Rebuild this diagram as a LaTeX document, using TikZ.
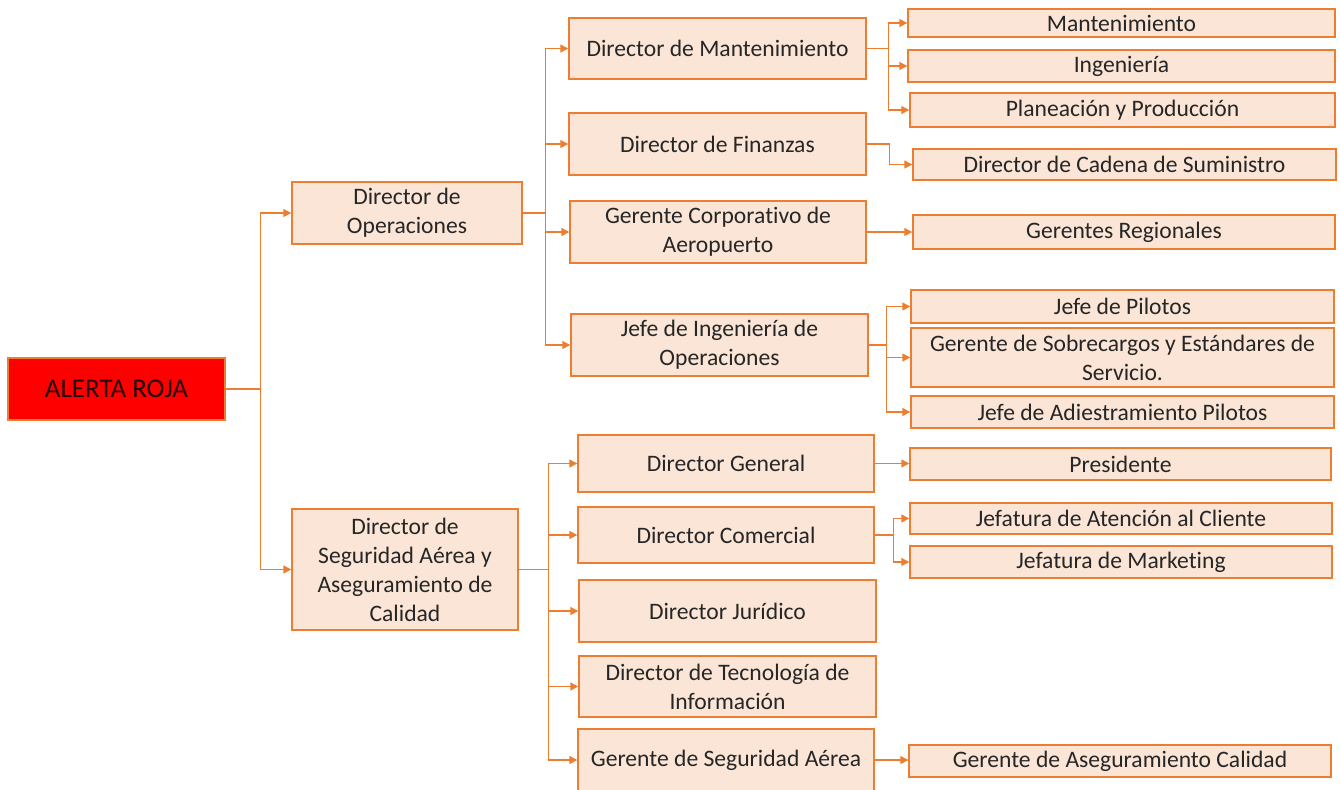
\documentclass[tikz,border=0pt]{standalone}
\usepackage{fontspec}
\setmainfont{Carlito}[Ligatures=NoCommon]
\usetikzlibrary{arrows.meta}
\definecolor{borange}{HTML}{ED7D31}
\definecolor{bfill}{HTML}{FBE5D6}
\definecolor{btext}{HTML}{262626}
\tikzset{
  orgbox/.style={draw=borange, fill=bfill, line width=0.7pt, inner sep=1pt, align=center, text=btext,
    font=\fontsize{11.8}{14.5}\selectfont},
  rootbox/.style={orgbox, fill=red, text=black!85!red, font=\fontsize{13.5}{16}\selectfont},
  conn/.style={draw=borange, line width=0.7pt},
  arr/.style={conn, -{Triangle[length=4pt,width=4pt]}}
}
\newcommand{\orgnode}[7][orgbox]{\node[#1, minimum width=#5*0.5pt, minimum height=#6*0.5pt] (#2) at (#3,#4) {#7};}
\begin{document}
\begin{tikzpicture}[x=0.5pt,y=-0.5pt]
\useasboundingbox (0,0) rectangle (1340,789);
% level 0
\orgnode[rootbox]{root}{116.5}{389}{217}{62}{ALERTA ROJA}
% level 1
\orgnode{ops}{407}{213}{230}{62}{Director de\\Operaciones}
\orgnode{seg}{405}{569.5}{226}{121}{Director de\\Seguridad Aérea y\\Aseguramiento de\\Calidad}
% level 2 (operaciones)
\orgnode{mant}{717.5}{48.5}{297}{61}{Director de Mantenimiento}
\orgnode{fin}{717.5}{144}{297}{62}{Director de Finanzas}
\orgnode{gca}{718}{232}{296}{62}{Gerente Corporativo de\\Aeropuerto}
\orgnode{jio}{719.5}{345}{297}{62}{Jefe de Ingeniería de\\Operaciones}
% level 2 (seguridad)
\orgnode{dg}{726}{463.5}{296}{57}{Director General}
\orgnode{dc}{726}{535}{296}{56}{Director Comercial}
\orgnode{dj}{727.5}{611}{297}{62}{Director Jurídico}
\orgnode{dt}{727.5}{686.5}{297}{61}{Director de Tecnología de\\Información}
\orgnode{gsa}{726}{760}{296}{62}{Gerente de Seguridad Aérea}
% level 3
\orgnode{m1}{1121.5}{23}{427}{28}{Mantenimiento}
\orgnode{m2}{1121.5}{66}{427}{32}{Ingeniería}
\orgnode{m3}{1122.5}{110}{425}{34}{Planeación y Producción}
\orgnode{cad}{1124.5}{164.5}{423}{31}{Director de Cadena de Suministro}
\orgnode{reg}{1124}{232}{422}{34}{Gerentes Regionales}
\orgnode{pil}{1122.5}{306.5}{423}{33}{Jefe de Pilotos}
\orgnode{sob}{1122.5}{357.5}{423}{59}{Gerente de Sobrecargos y Estándares de\\Servicio.}
\orgnode{adi}{1122.5}{412}{423}{32}{Jefe de Adiestramiento Pilotos}
\orgnode{pre}{1120.5}{464}{421}{32}{Presidente}
\orgnode{jac}{1121}{518.5}{422}{31}{Jefatura de Atención al Cliente}
\orgnode{jmk}{1121}{562}{422}{32}{Jefatura de Marketing}
\orgnode{gac}{1120}{761}{422}{32}{Gerente de Aseguramiento Calidad}
% connectors
\draw[conn] (root.east) -- ++(35,0) coordinate (b0);
\draw[arr] (b0) |- (ops.west);
\draw[arr] (b0) |- (seg.west);
\draw[conn] (ops.east) -- ++(23,0) coordinate (b1);
\draw[arr] (b1) |- (mant.west);
\draw[arr] (b1) |- (fin.west);
\draw[arr] (b1) |- (gca.west);
\draw[arr] (b1) |- (jio.west);
\draw[conn] (seg.east) -- ++(30,0) coordinate (b2);
\draw[arr] (b2) |- (dg.west);
\draw[arr] (b2) |- (dc.west);
\draw[arr] (b2) |- (dj.west);
\draw[arr] (b2) |- (dt.west);
\draw[arr] (b2) |- (gsa.west);
\draw[conn] (mant.east) -- ++(22,0) coordinate (b3);
\draw[arr] (b3) |- (m1.west);
\draw[arr] (b3) |- (m2.west);
\draw[arr] (b3) |- (m3.west);
\draw[conn] (fin.east) -- ++(23,0) coordinate (b4);
\draw[arr] (b4) |- (cad.west);
\draw[arr] (gca.east) -- (reg.west);
\draw[conn] (jio.east) -- ++(18,0) coordinate (b5);
\draw[arr] (b5) |- (pil.west);
\draw[arr] (b5) |- (sob.west);
\draw[arr] (b5) |- (adi.west);
\draw[arr] (dg.east) -- (dg.east -| pre.west);
\draw[conn] (dc.east) -- ++(19,0) coordinate (b6);
\draw[arr] (b6) |- (jac.west);
\draw[arr] (b6) |- (jmk.west);
\draw[arr] (gsa.east) -- (gsa.east -| gac.west);
\end{tikzpicture}
\end{document}
